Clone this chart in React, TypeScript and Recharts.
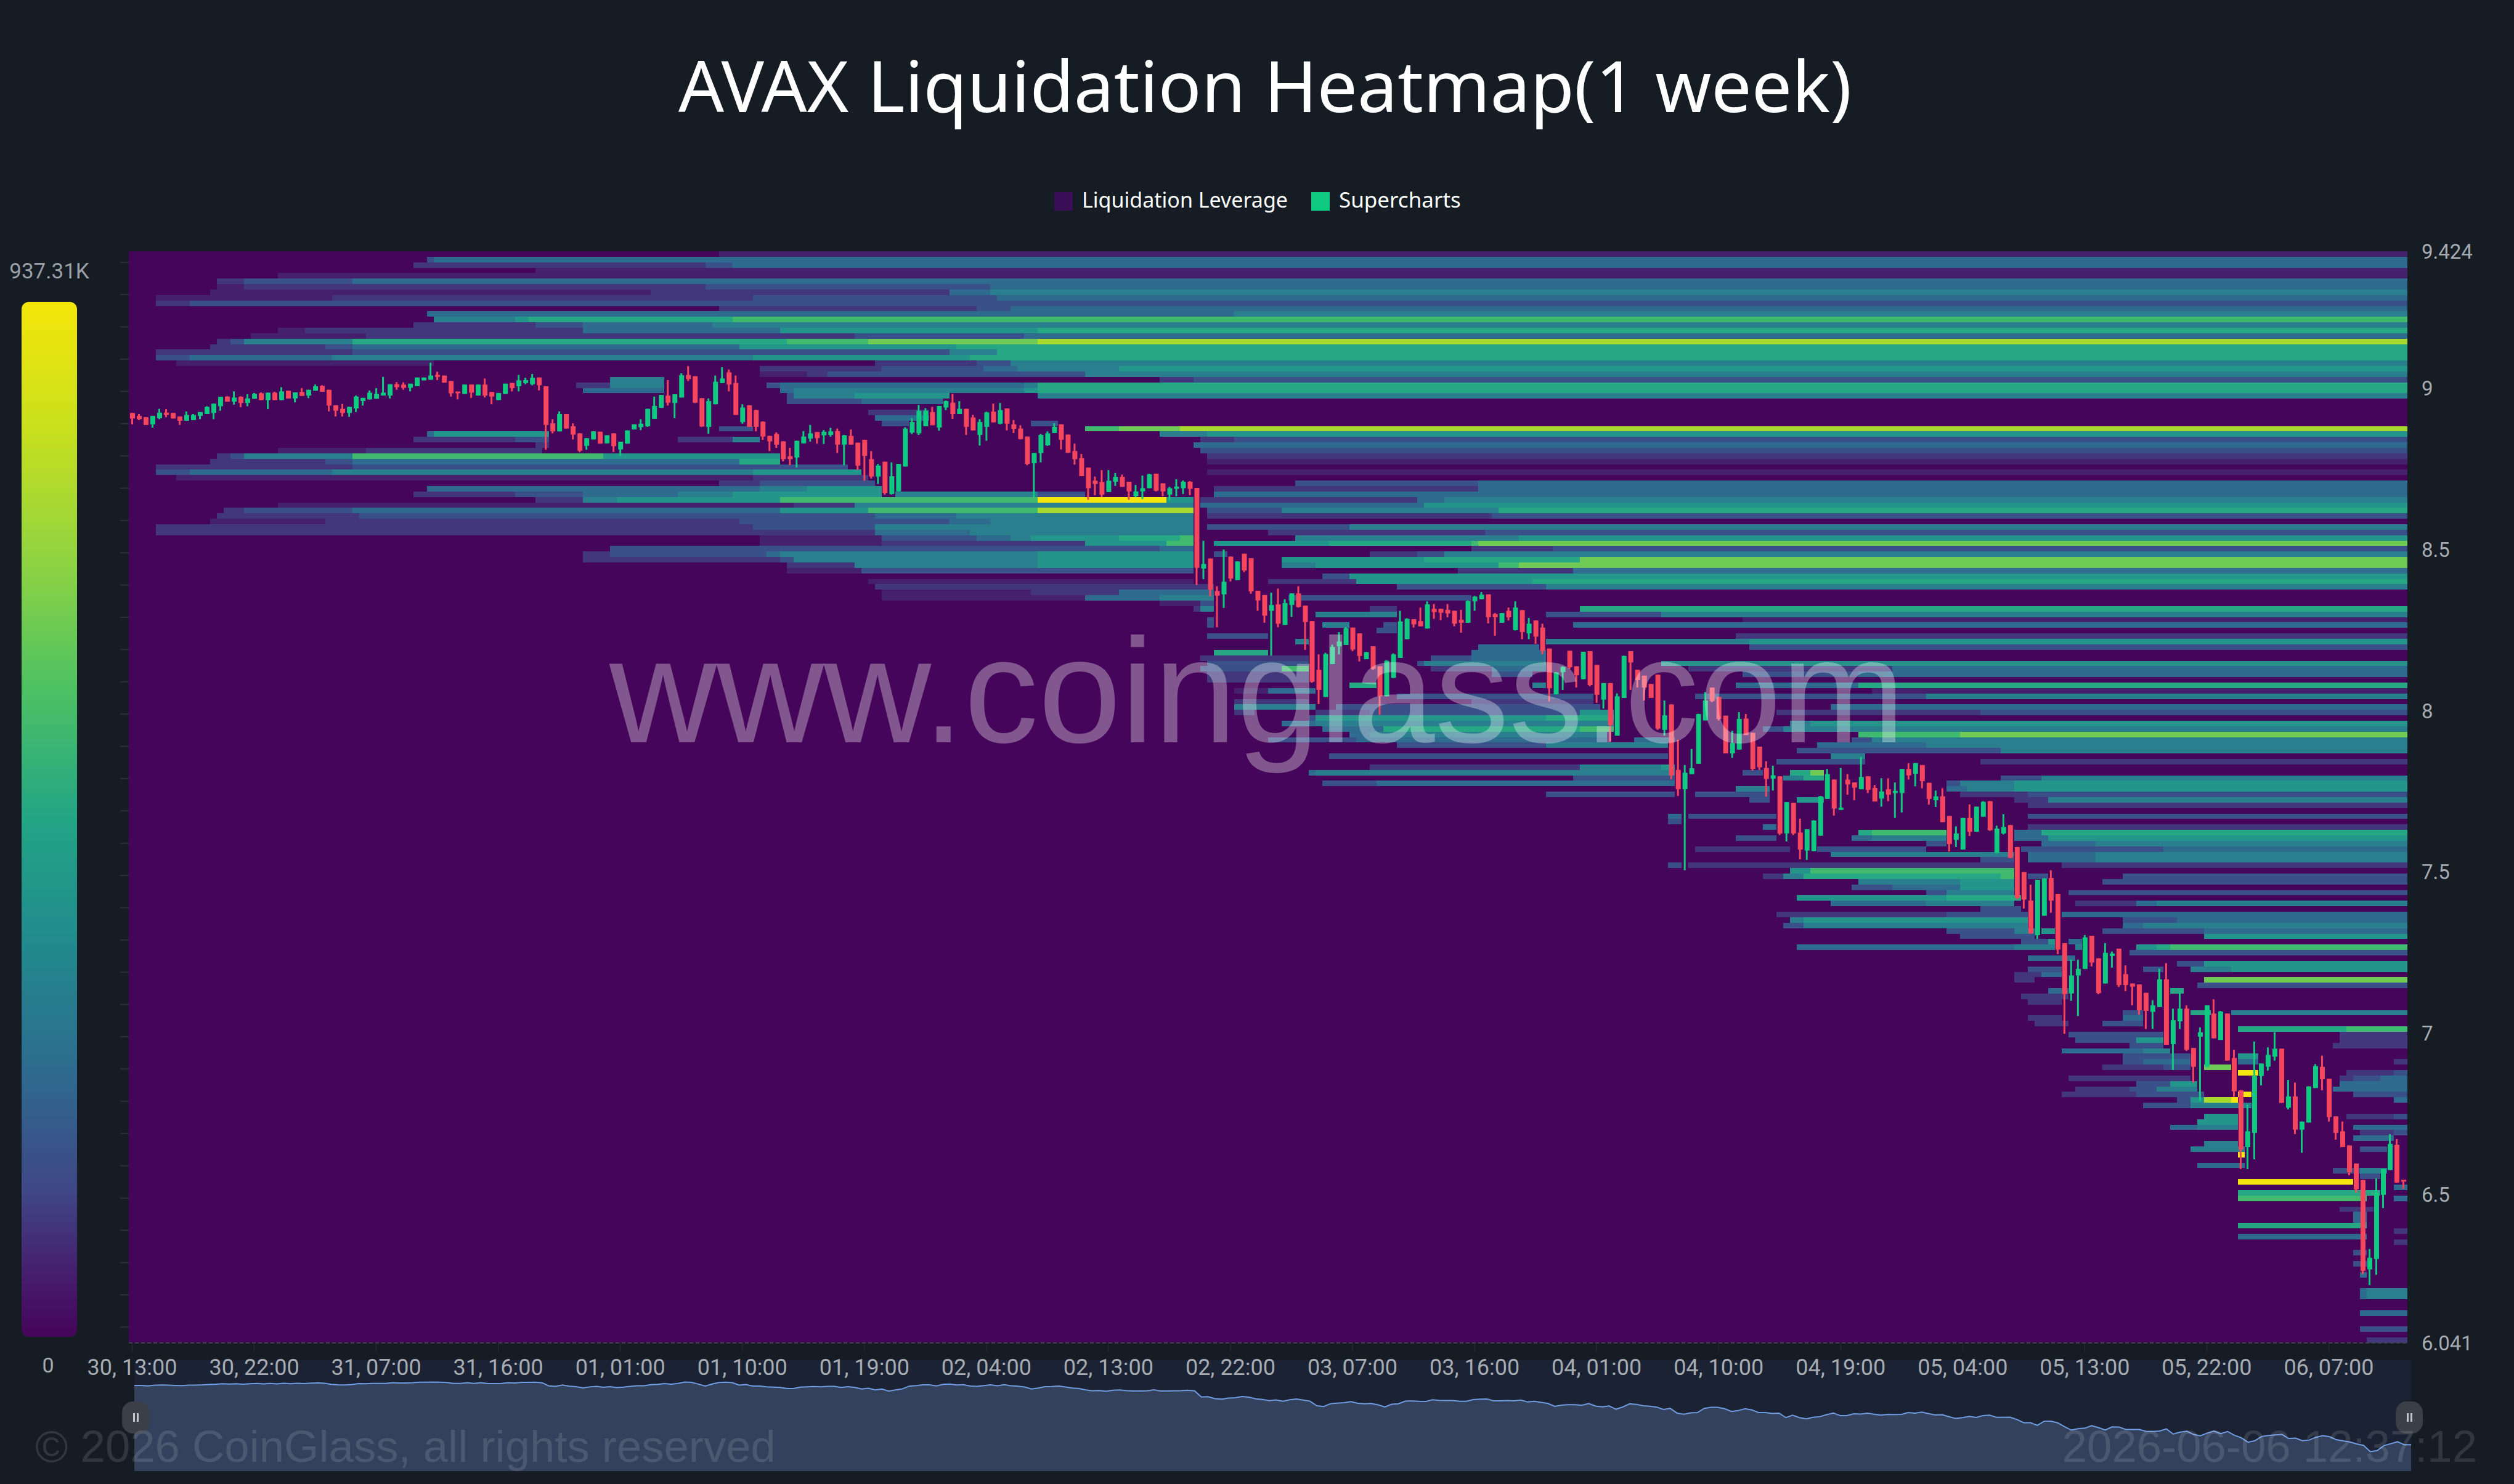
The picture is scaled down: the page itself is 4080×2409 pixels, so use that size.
import { Area, AreaChart, Bar, Cell, ComposedChart, ReferenceArea, XAxis, YAxis } from 'recharts'

// 30 minute candles, 30th 13:00 to 6th 13:00
const opens = [
  8.923,8.914,8.910,8.888,8.907,8.924,8.923,8.912,8.899,8.901,
  8.914,8.920,8.923,8.944,8.974,8.958,8.973,8.954,8.967,8.984,
  8.963,8.986,8.963,8.992,8.968,8.988,8.977,8.992,9.007,8.995,
  8.947,8.936,8.923,8.937,8.960,8.965,8.967,8.977,8.977,9.012,
  9.011,9.001,9.006,9.024,9.026,9.041,9.039,9.022,8.987,8.982,
  9.011,8.977,9.011,8.988,8.963,8.982,9.016,9.006,9.016,9.012,
  9.033,9.006,8.891,8.866,8.920,8.882,8.860,8.821,8.841,8.865,
  8.829,8.860,8.810,8.828,8.872,8.879,8.882,8.905,8.939,8.977,
  8.954,8.971,9.041,9.037,8.969,8.880,8.950,9.016,9.049,9.016,
  8.895,8.947,8.932,8.896,8.852,8.858,8.835,8.789,8.785,8.829,
  8.844,8.864,8.854,8.855,8.867,8.825,8.852,8.831,8.840,8.780,
  8.726,8.772,8.672,8.680,8.757,8.862,8.860,8.882,8.926,8.878,
  8.940,8.955,8.920,8.936,8.909,8.855,8.880,8.927,8.890,8.937,
  8.888,8.875,8.850,8.767,8.799,8.823,8.861,8.888,8.856,8.805,
  8.783,8.754,8.713,8.709,8.678,8.710,8.725,8.710,8.665,8.680,
  8.690,8.735,8.705,8.670,8.688,8.690,8.710,8.691,8.441,8.472,
  8.371,8.361,8.478,8.405,8.487,8.473,8.372,8.359,8.310,8.330,
  8.266,8.328,8.364,8.326,8.278,8.127,8.043,8.145,8.200,8.204,
  8.258,8.240,8.160,8.200,8.138,8.045,8.102,8.164,8.222,8.284,
  8.278,8.255,8.316,8.316,8.313,8.310,8.282,8.273,8.339,8.346,
  8.361,8.300,8.273,8.310,8.250,8.312,8.240,8.280,8.258,8.193,
  8.051,8.120,8.186,8.138,8.098,8.185,8.142,8.035,8.086,7.923,
  8.040,8.185,8.127,8.109,8.083,8.112,7.941,8.020,7.817,7.757,
  7.804,7.836,7.970,8.072,8.043,7.985,7.868,7.880,7.976,7.932,
  7.889,7.823,7.790,7.797,7.620,7.715,7.623,7.567,7.565,7.613,
  7.727,7.787,7.693,7.787,7.778,7.757,7.797,7.761,7.728,7.757,
  7.745,7.745,7.820,7.805,7.832,7.777,7.723,7.735,7.674,7.600,
  7.570,7.668,7.625,7.672,7.720,7.560,7.620,7.646,7.578,7.500,
  7.412,7.305,7.365,7.482,7.433,7.280,7.124,7.180,7.200,7.303,
  7.233,7.155,7.240,7.263,7.184,7.155,7.152,7.126,7.067,7.082,
  7.168,6.967,7.038,7.077,6.955,6.990,6.897,7.062,6.980,7.062,
  6.924,6.824,6.648,6.692,6.868,6.897,6.928,6.953,6.770,6.805,
  6.702,6.724,6.831,6.897,6.860,6.743,6.697,6.653,6.597,6.546,
  6.269,6.301,6.500,6.577,6.655,6.546,
]
const highs = [
  8.923,8.920,8.910,8.914,8.936,8.935,8.923,8.912,8.928,8.920,
  8.926,8.944,8.952,8.973,8.975,8.990,8.975,8.981,8.985,8.987,
  8.986,8.989,9.003,8.992,8.987,9.000,8.995,9.011,9.009,8.995,
  8.947,8.951,8.942,8.977,8.970,8.993,9.000,9.035,9.012,9.019,
  9.018,9.014,9.033,9.033,9.079,9.051,9.039,9.022,8.987,9.011,
  9.011,9.011,9.030,8.988,8.985,9.014,9.016,9.041,9.032,9.044,
  9.033,9.006,8.904,8.928,8.920,8.891,8.860,8.845,8.866,8.865,
  8.854,8.860,8.834,8.869,8.888,8.904,8.936,8.974,8.979,9.025,
  8.981,9.046,9.068,9.037,8.969,8.968,9.039,9.065,9.058,9.039,
  8.950,8.947,8.933,8.897,8.852,8.863,8.835,8.815,8.837,8.867,
  8.886,8.864,8.870,8.877,8.875,8.855,8.872,8.831,8.840,8.805,
  8.765,8.772,8.770,8.765,8.879,8.907,8.948,8.938,8.942,8.945,
  8.962,8.982,8.960,8.936,8.917,8.904,8.927,8.952,8.954,8.937,
  8.901,8.885,8.850,8.799,8.858,8.866,8.891,8.888,8.856,8.828,
  8.796,8.754,8.726,8.746,8.746,8.737,8.732,8.710,8.700,8.729,
  8.735,8.735,8.705,8.694,8.718,8.714,8.712,8.691,8.527,8.472,
  8.386,8.500,8.478,8.463,8.487,8.473,8.372,8.359,8.366,8.379,
  8.346,8.364,8.386,8.326,8.278,8.175,8.180,8.205,8.244,8.259,
  8.258,8.240,8.182,8.200,8.138,8.157,8.178,8.310,8.287,8.284,
  8.320,8.339,8.331,8.316,8.331,8.310,8.313,8.342,8.356,8.368,
  8.361,8.303,8.303,8.320,8.339,8.312,8.288,8.280,8.270,8.193,
  8.120,8.138,8.186,8.138,8.183,8.185,8.142,8.086,8.086,8.054,
  8.171,8.185,8.127,8.109,8.083,8.112,8.032,8.020,7.910,7.832,
  7.882,7.991,8.058,8.072,8.043,7.985,7.938,7.996,7.990,7.932,
  7.889,7.844,7.830,7.797,7.717,7.715,7.666,7.633,7.661,7.736,
  7.820,7.787,7.823,7.804,7.778,7.857,7.797,7.770,7.791,7.791,
  7.778,7.820,7.838,7.838,7.832,7.777,7.753,7.760,7.674,7.642,
  7.668,7.710,7.703,7.720,7.720,7.644,7.680,7.646,7.578,7.500,
  7.461,7.476,7.482,7.506,7.433,7.280,7.229,7.229,7.305,7.303,
  7.233,7.280,7.254,7.263,7.211,7.155,7.152,7.126,7.103,7.201,
  7.218,7.077,7.126,7.087,6.955,7.019,7.087,7.106,7.070,7.062,
  6.950,6.824,6.780,6.975,6.907,6.957,7.004,6.953,6.856,6.848,
  6.727,6.836,6.905,6.931,6.860,6.743,6.727,6.653,6.597,6.546,
  6.332,6.551,6.580,6.688,6.673,6.546,
]
const lows = [
  8.888,8.901,8.886,8.877,8.904,8.910,8.906,8.886,8.899,8.901,
  8.904,8.920,8.904,8.930,8.958,8.949,8.941,8.944,8.967,8.963,
  8.935,8.963,8.963,8.968,8.956,8.976,8.969,8.992,8.989,8.928,
  8.912,8.912,8.911,8.926,8.946,8.965,8.967,8.977,8.968,8.995,
  8.995,8.990,9.006,9.024,9.026,9.025,9.017,8.974,8.965,8.982,
  8.970,8.977,8.971,8.950,8.963,8.982,8.990,8.990,9.012,9.009,
  8.993,8.809,8.860,8.866,8.875,8.841,8.802,8.809,8.841,8.828,
  8.829,8.802,8.790,8.828,8.872,8.870,8.880,8.905,8.939,8.946,
  8.907,8.971,9.022,8.954,8.880,8.859,8.950,9.016,8.990,8.917,
  8.890,8.880,8.866,8.840,8.805,8.815,8.773,8.761,8.754,8.829,
  8.834,8.828,8.827,8.850,8.799,8.761,8.825,8.746,8.713,8.720,
  8.703,8.670,8.670,8.680,8.757,8.858,8.855,8.882,8.885,8.868,
  8.932,8.905,8.920,8.855,8.869,8.822,8.837,8.894,8.888,8.869,
  8.861,8.841,8.761,8.662,8.770,8.821,8.861,8.810,8.799,8.763,
  8.727,8.654,8.668,8.662,8.678,8.697,8.694,8.654,8.662,8.656,
  8.690,8.680,8.665,8.652,8.665,8.672,8.668,8.390,8.408,8.354,
  8.259,8.319,8.401,8.405,8.430,8.363,8.310,8.273,8.171,8.259,
  8.266,8.291,8.320,8.189,8.087,8.021,8.043,8.145,8.175,8.204,
  8.185,8.153,8.160,8.127,7.988,8.045,8.102,8.164,8.222,8.258,
  8.262,8.255,8.285,8.281,8.290,8.262,8.242,8.273,8.310,8.346,
  8.271,8.233,8.273,8.280,8.249,8.222,8.222,8.208,8.175,8.029,
  8.051,8.065,8.130,8.072,8.098,8.076,8.025,8.007,7.905,7.923,
  8.040,8.065,8.072,8.032,8.040,7.941,7.923,7.788,7.736,7.506,
  7.804,7.836,7.970,8.027,7.970,7.868,7.854,7.880,7.925,7.815,
  7.817,7.734,7.753,7.615,7.595,7.615,7.540,7.538,7.565,7.613,
  7.727,7.675,7.693,7.740,7.723,7.757,7.745,7.719,7.703,7.720,
  7.668,7.685,7.787,7.766,7.760,7.709,7.702,7.655,7.564,7.578,
  7.570,7.612,7.625,7.672,7.628,7.558,7.617,7.544,7.416,7.387,
  7.310,7.293,7.365,7.374,7.246,6.999,7.101,7.054,7.200,7.208,
  7.122,7.155,7.204,7.144,7.131,7.087,7.058,7.014,7.014,7.082,
  6.965,6.887,7.014,6.946,6.848,6.790,6.895,6.985,6.980,6.916,
  6.804,6.580,6.580,6.610,6.839,6.885,6.916,6.785,6.765,6.688,
  6.630,6.724,6.831,6.824,6.727,6.671,6.648,6.561,6.507,6.254,
  6.220,6.252,6.459,6.577,6.538,6.519,
]
const closes = [
  8.906,8.904,8.886,8.914,8.924,8.917,8.906,8.899,8.917,8.917,
  8.926,8.942,8.952,8.973,8.958,8.971,8.954,8.968,8.982,8.963,
  8.986,8.963,8.990,8.968,8.987,8.976,8.995,9.006,8.989,8.946,
  8.930,8.923,8.942,8.974,8.970,8.986,8.982,8.986,9.012,9.003,
  9.001,9.014,9.033,9.033,9.039,9.035,9.017,8.984,8.984,9.011,
  8.986,9.011,8.977,8.974,8.985,9.014,9.000,9.024,9.025,9.032,
  9.009,8.886,8.866,8.920,8.875,8.856,8.806,8.845,8.866,8.828,
  8.854,8.820,8.834,8.869,8.888,8.890,8.936,8.945,8.979,8.955,
  8.981,9.040,9.028,8.955,8.881,8.960,9.020,9.030,9.011,8.917,
  8.940,8.880,8.880,8.850,8.835,8.825,8.780,8.780,8.837,8.850,
  8.860,8.845,8.865,8.866,8.825,8.854,8.825,8.760,8.790,8.726,
  8.760,8.675,8.727,8.765,8.875,8.895,8.930,8.930,8.885,8.945,
  8.960,8.920,8.936,8.880,8.869,8.895,8.925,8.894,8.932,8.890,
  8.874,8.842,8.765,8.799,8.855,8.860,8.880,8.840,8.800,8.780,
  8.727,8.690,8.703,8.670,8.713,8.725,8.694,8.680,8.680,8.690,
  8.733,8.682,8.680,8.690,8.695,8.710,8.688,8.443,8.455,8.375,
  8.357,8.400,8.410,8.463,8.435,8.370,8.342,8.295,8.328,8.270,
  8.334,8.364,8.322,8.275,8.090,8.065,8.176,8.198,8.215,8.256,
  8.190,8.170,8.182,8.130,8.045,8.155,8.175,8.277,8.285,8.268,
  8.262,8.330,8.306,8.304,8.302,8.270,8.273,8.340,8.354,8.360,
  8.290,8.290,8.303,8.290,8.320,8.244,8.270,8.230,8.186,8.070,
  8.119,8.136,8.135,8.110,8.183,8.080,8.050,8.086,7.956,8.045,
  8.170,8.150,8.095,8.072,8.040,7.945,7.986,7.800,7.757,7.808,
  7.822,7.990,8.032,8.030,7.975,7.868,7.900,7.975,7.925,7.820,
  7.825,7.789,7.800,7.620,7.717,7.620,7.570,7.633,7.660,7.735,
  7.804,7.697,7.700,7.772,7.762,7.795,7.755,7.719,7.750,7.740,
  7.752,7.820,7.800,7.838,7.782,7.727,7.735,7.655,7.587,7.620,
  7.668,7.625,7.703,7.718,7.630,7.635,7.640,7.544,7.420,7.415,
  7.310,7.476,7.480,7.412,7.260,7.122,7.180,7.200,7.298,7.220,
  7.125,7.250,7.248,7.150,7.150,7.145,7.072,7.070,7.087,7.168,
  6.965,7.041,7.077,6.950,6.897,7.004,7.087,6.985,7.068,6.916,
  6.821,6.640,6.697,6.868,6.907,6.934,6.953,6.785,6.805,6.702,
  6.727,6.836,6.899,6.858,6.741,6.692,6.648,6.570,6.517,6.264,
  6.305,6.507,6.580,6.658,6.538,6.541,
]

const priceTicks = [6.041, 6.5, 7, 7.5, 8, 8.5, 9, 9.424]
const minorPriceTicks = [
  9.39,9.29,9.19,9.09,8.99,8.89,8.79,8.69,8.59,8.49,8.39,8.29,8.19,8.09,7.99,7.89,7.79,
  7.69,7.59,7.49,7.39,7.29,7.19,7.09,6.99,6.89,6.79,6.69,6.59,6.49,6.39,6.29,6.19,6.09,
]
const timeLabels = [
  '30, 13:00','30, 22:00','31, 07:00','31, 16:00','01, 01:00','01, 10:00','01, 19:00','02, 04:00',
  '02, 13:00','02, 22:00','03, 07:00','03, 16:00','04, 01:00','04, 10:00','04, 19:00','05, 04:00',
  '05, 13:00','05, 22:00','06, 07:00',
]
const timeSlots = [0,18,36,54,72,90,108,126,144,162,180,198,216,234,252,270,288,306,324]

// index = liquidation strength, 0 means nothing in that bucket
const heatColors = ['#45055a','#45206c','#42367c','#3a5088','#2f6b8e','#2a7f8e','#23958a','#25a883','#3fba6f','#6fcb55','#a8d92f','#f5e60e']

// one entry per price bucket from the top, each a flat list of: candle slot, strength, slot, strength...
const heatRows: number[][] = [
  [87,1],
  [44,3,45,4],
  [42,2,59,2,85,3,89,4],
  [60,1],
  [22,1],
  [13,2,17,3,33,4],
  [13,1,17,2,85,3,127,4],
  [12,1,77,2,121,4,127,5],
  [4,1,30,2,92,3,128,4],
  [4,2,9,3],
  [87,2,125,3,130,4],
  [44,4,163,5],
  [45,5,57,6,59,7,89,8],
  [42,2,60,3,67,4,86,5],
  [22,1,26,2,67,4,96,6,134,7],
  [18,1,35,2,107,3,132,4],
  [13,2,15,3,17,5,33,7,97,8,109,9,134,10],
  [12,2,29,3,33,4,90,6,122,7],
  [4,2,33,3,121,5,128,7],
  [4,3,9,4,30,5,92,6,124,7],
  [7,1,45,0,110,2,125,3,130,5],
  [93,2,111,3,126,4,131,5,146,6],
  [93,1,100,2,103,3,141,5],
  [71,5,79,0,152,2,157,3],
  [66,2,71,5,79,0,94,3,96,4,132,5,134,7],
  [67,4,79,0,96,4,98,5,132,6,134,7],
  [97,3,98,5,107,6,121,0,134,5],
  [97,3,108,4,120,0],
  [],
  [109,2,118,0],
  [110,4,118,0],
  [111,3,115,0,133,3,137,0],
  [87,3,92,0,141,8,146,9,155,10],
  [44,4,45,6,62,0,152,5,159,6],
  [42,2,57,3,62,0,81,2,89,5,93,0,158,2,163,3],
  [60,2,62,0,157,4],
  [22,1,35,2,61,0,158,3],
  [13,2,15,3,17,5,33,8,70,6,96,0,159,2],
  [12,2,29,3,33,4,90,7,96,0,159,1],
  [4,2,33,3,106,0],
  [4,3,9,4,30,5,92,6,108,0,159,1],
  [7,1,92,2,109,0],
  [87,2,93,3,110,0,172,3,199,4],
  [44,4,93,5,100,6,111,0,160,2,199,4],
  [42,2,57,3,67,4,81,5,89,6,111,0,113,5,134,3,141,0,160,4],
  [60,2,67,5,72,6,96,8,134,11,153,6,157,0,158,2,190,4,194,5],
  [22,1,98,2,107,5,157,0,158,4,191,6],
  [14,2,17,3,33,4,96,6,109,8,134,10,157,0,159,3,170,5,202,7],
  [13,2,34,3,110,4,122,5,157,0,159,2,201,3],
  [12,1,29,2,90,3,121,4,127,5,157,0],
  [4,2,92,3,110,5,157,0,159,3,180,5],
  [4,2,110,4,124,5,157,0,168,2,200,3],
  [93,1,111,3,125,4,130,5,133,6,146,7,155,8,157,0,172,5,205,6],
  [93,1,111,2,141,6,153,8,157,0,160,6,177,7,198,8,199,9],
  [71,3,152,4,157,0,198,2,210,3],
  [67,2,71,3,94,4,96,5,134,6,157,0,160,3,162,0,183,2,190,3,194,5],
  [67,2,96,3,98,5,134,6,157,0,170,6,191,7,214,9],
  [97,2,107,5,134,6,157,0,170,5,175,6,202,8,205,9],
  [97,1,108,3,157,0,196,2,213,4],
  [176,3,180,6],
  [109,1,157,0,168,2,181,6,207,7],
  [110,2,160,0,187,3,209,5],
  [111,1,133,2,146,4,160,0],
  [111,1,141,4,152,5,160,0,171,3,198,0],
  [152,1,158,3,160,0],
  [157,2,158,5,160,0,183,2,187,0,214,7],
  [175,5,187,0,209,3,226,5],
  [159,3,160,0,238,1],
  [159,3,160,0,176,5,180,0,185,3,187,0,213,4],
  [184,3,187,0],
  [159,3,168,0,237,2],
  [172,5,174,0,209,5,239,6],
  [199,4,208,0,239,3],
  [160,7,168,0,198,4,209,0],
  [158,2,174,0,192,3,198,4,209,0],
  [159,3,174,0,190,3,191,5,209,0,226,6],
  [158,3,170,8,174,0,192,2,201,4,209,0,230,2,260,4],
  [159,2,174,0,201,3,207,0,238,3,255,4],
  [159,2,174,0],
  [180,7,184,0,207,5,209,0,237,4,255,7],
  [163,1,168,4,175,0,257,1],
  [187,3,216,0,231,3,265,5],
  [163,2,174,0,198,2,216,0],
  [163,5,175,0,178,3,217,0,251,4],
  [163,2,166,0,175,2,183,3,214,6,219,0,243,2,273,3],
  [174,3,175,6,209,7,219,0],
  [170,4,175,5,219,0,245,5,248,6],
  [176,4,185,7,214,8,219,0,241,3,244,5],
  [180,4,183,5,218,0,255,8,270,9],
  [168,3,181,4,218,0,222,4,228,0,254,3,257,5],
  [187,3,209,5,227,0,249,4,265,5],
  [246,3,276,5],
  [177,3,227,0,251,5,256,0],
  [243,3,256,0,273,2],
  [183,2,214,5,226,6,228,0],
  [174,4,175,5,228,0,238,3,241,0,245,7,248,9,250,0],
  [213,3,228,0,244,5,247,7,250,0,276,3,282,5],
  [176,3,184,4,228,0,268,3,270,5,278,6],
  [237,5,242,0,268,4,271,5,278,6],
  [209,3,228,0,231,3,242,0,270,2,280,3],
  [239,3,242,0,246,6,250,0,278,2,283,5],
  [280,2],
  [],
  [227,4,229,0,230,3,243,0,280,3],
  [227,3,229,0],
  [241,4,243,0,280,2],
  [255,7,257,8,268,0,278,4,282,7],
  [237,3,243,0,254,4,257,5,268,0,278,4,283,6],
  [265,3,268,0,282,4,290,5],
  [231,2,245,0,249,3,265,0,279,3,300,4],
  [251,5,278,0,280,4,290,5],
  [273,3,278,0,280,4,290,5],
  [227,3,229,0,230,2,278,0,285,2],
  [245,6,248,8,278,0],
  [241,2,244,5,247,7,276,8,278,0,280,3,283,0,294,3],
  [255,5,270,6,278,0,291,3],
  [254,3,260,4,270,6,278,0],
  [265,3,268,5,278,0,286,3],
  [246,6,268,7,279,0],
  [251,4,265,5,278,0,287,2,296,4,299,5],
  [273,3,279,0],
  [243,2,268,3,280,0,285,4],
  [245,5,247,6,280,0,294,3,302,4],
  [244,3,247,5,280,0,294,4,297,5],
  [268,3,278,5,281,0,282,6,284,0,291,3,306,4],
  [270,3,281,0,306,6],
  [279,3,283,6,284,0,286,4,288,0],
  [246,4,278,5,284,0,287,5,288,0,296,6,299,7,301,8],
  [295,3],
  [280,4,287,0],
  [302,3,306,6],
  [280,3,285,0,297,3,300,0,304,5,310,6],
  [278,2,282,4,285,0],
  [278,2,281,0,306,9],
  [305,3],
  [283,4,286,0,301,7,303,0],
  [279,2,286,0],
  [280,2,285,0],
  [],
  [294,3,297,0,304,7,307,0,310,5],
  [280,2,285,0,294,4,297,0],
  [281,2,286,0,291,3,297,0],
  [311,7,327,8],
  [286,3,300,0,326,2],
  [287,3,296,6,300,0,326,2],
  [295,3,300,0,325,2],
  [285,4,297,5,301,0],
  [294,3,304,0,311,6,314,0],
  [294,3,297,4,304,0,311,4,314,0,334,2],
  [291,2,300,3,304,0,306,9,310,0],
  [311,11,314,0,327,2,334,3],
  [286,2,304,0,326,2,328,3,332,4],
  [296,3,301,6,305,0,326,4],
  [287,2,295,3,299,5,305,0,325,4],
  [285,2,296,3,306,0,311,11,313,0,328,3],
  [302,3,304,6,306,10,310,11,311,0,334,4],
  [297,3,304,5,313,0],
  [],
  [306,6,311,0,327,2,334,3],
  [305,6,311,0],
  [301,4,305,5,311,0,328,4],
  [329,2,334,3],
  [328,4,334,0],
  [306,5,311,0],
  [304,5,312,0,329,3,333,0],
  [311,11,312,0],
  [],
  [305,4,312,0],
  [325,3,329,5,333,0],
  [329,3,332,0],
  [311,11,328,0],
  [334,4],
  [311,7,332,0],
  [311,8,330,0,334,4],
  [],
  [326,2,331,0],
  [328,4,330,0],
  [328,4,330,0],
  [311,7,330,0],
  [334,2],
  [311,4,330,0],
  [334,2],
  [],
  [328,3,330,0],
  [],
  [328,3,330,0],
  [],
  [329,4,330,0],
  [],
  [],
  [329,4,330,5],
  [329,4,330,5],
  [],
  [],
  [329,4],
  [],
  [],
  [329,3],
  [],
  [330,2],
]

const UP = '#0ecb81'
const DOWN = '#f6465d'
const SLOTS = opens.length
const BUCKETS = 200

const candles = opens.map((open, i) => ({
  slot: i,
  wick: [lows[i], highs[i]],
  body: [Math.min(open, closes[i]), Math.max(open, closes[i])],
  close: closes[i],
  up: closes[i] >= open,
}))

// turn the step lists into spans for the reference areas
const heatSpans = heatRows.flatMap((steps, row) => {
  const spans: { row: number; from: number; to: number; level: number }[] = []
  for (let s = 0; s < steps.length; s += 2) {
    if (steps[s + 1] === 0) continue
    spans.push({ row, from: steps[s], to: s + 2 < steps.length ? steps[s + 2] : SLOTS, level: steps[s + 1] })
  }
  return spans
})

const gradientStops = [
  [0, '#f5e60a'], [0.12, '#c9e01c'], [0.25, '#8fd341'], [0.37, '#4fc262'], [0.5, '#22a585'],
  [0.62, '#218a8d'], [0.74, '#2d6c8e'], [0.86, '#3f4686'], [0.95, '#46186c'], [1, '#45055a'],
] as const

const sans = '"Noto Sans", sans-serif'
const arial = '"Liberation Sans", Arial, sans-serif'
const axisFont = 'Roboto, sans-serif'

function Overlay() {
  return (
    <svg width={4080} height={2409} style={{ position: 'absolute', left: 0, top: 0, pointerEvents: 'none' }}>
      <defs>
        <linearGradient id="scale" x1="0" y1="0" x2="0" y2="1">
          {gradientStops.map(([at, color]) => <stop key={at} offset={at} stopColor={color} />)}
        </linearGradient>
      </defs>
      <text x={2053} y={182} textAnchor="middle" fontFamily={sans} fontSize={116} fill="#fff">AVAX Liquidation Heatmap(1 week)</text>

      <rect x={1711} y={312} width={30} height={30} fill="#3b0f57" />
      <text x={1756} y={337} fontFamily={sans} fontSize={34} fill="#fff">Liquidation Leverage</text>
      <rect x={2128} y={312} width={30} height={30} fill={UP} />
      <text x={2173} y={337} fontFamily={sans} fontSize={35} fill="#fff">Supercharts</text>

      <text x={80} y={452} textAnchor="middle" fontFamily={axisFont} fontSize={35} fill="#9a9fa6">937.31K</text>
      <rect x={35} y={490} width={90} height={1680} rx={12} fill="url(#scale)" />
      <text x={78} y={2228} textAnchor="middle" fontFamily={axisFont} fontSize={34} fill="#a6abb1">0</text>

      <text x={989} y={1205} fontFamily={arial} fontSize={241} fill="#fff" fillOpacity={0.33}>www.coinglass.com</text>

      <rect x={198} y={2275} width={45} height={52} rx={18} fill="#3b4048" />
      <rect x={216} y={2294} width={3} height={14} fill="#c4c7cc" />
      <rect x={222} y={2294} width={3} height={14} fill="#c4c7cc" />
      <rect x={3888} y={2275} width={44} height={52} rx={18} fill="#3b4048" />
      <rect x={3906} y={2294} width={3} height={14} fill="#c4c7cc" />
      <rect x={3912} y={2294} width={3} height={14} fill="#c4c7cc" />

      <text x={57} y={2373} fontFamily={arial} fontSize={72.5} fill="#fff" fillOpacity={0.12}>© 2026 CoinGlass, all rights reserved</text>
      <text x={4020} y={2373} textAnchor="end" fontFamily={arial} fontSize={72.5} fill="#fff" fillOpacity={0.12}>2026-06-06 12:37:12</text>
    </svg>
  )
}

export default function App() {
  return (
    <div style={{ position: 'absolute', left: 0, top: 0, width: 4080, height: 2409, background: '#151c24', overflow: 'hidden' }}>
      {/* overview strip under the chart */}
      <div style={{ position: 'absolute', left: 218, top: 2208, width: 3695, height: 180, background: '#1a2233' }}>
        <AreaChart width={3695} height={180} data={candles} margin={{ top: 0, right: 0, bottom: 0, left: 0 }}>
          <XAxis dataKey="slot" hide />
          <YAxis hide domain={[5.49, 9.91]} />
          <Area type="linear" dataKey="close" stroke="#6f9ce0" strokeWidth={2} fill="#33415c" fillOpacity={1} dot={false} isAnimationActive={false} />
        </AreaChart>
      </div>

      {/* heat layer: the number axis runs over the data indexes 0..335, so the right margin is one slot more */}
      <div style={{ position: 'absolute', left: 0, top: 0 }}>
        <ComposedChart width={4080} height={2409} data={candles} margin={{ top: 408, right: 184, bottom: 229, left: 209 }}>
          <XAxis xAxisId="heatX" type="number" hide domain={[0, SLOTS]} allowDataOverflow />
          <YAxis yAxisId="heatY" hide reversed domain={[0, BUCKETS]} allowDataOverflow />
          <ReferenceArea xAxisId="heatX" yAxisId="heatY" ifOverflow="visible" x1={0} x2={SLOTS} y1={0} y2={BUCKETS} fill={heatColors[0]} fillOpacity={1} strokeWidth={0} />
          {heatSpans.map((span, i) => (
            <ReferenceArea
              key={i}
              xAxisId="heatX"
              yAxisId="heatY"
              ifOverflow="visible"
              x1={span.from}
              x2={span.to}
              y1={span.row}
              y2={span.row + 1}
              fill={heatColors[span.level]}
              fillOpacity={1}
              strokeWidth={0}
              shapeRendering="crispEdges"
            />
          ))}
        </ComposedChart>
      </div>

      <div style={{ position: 'absolute', left: 0, top: 0 }}>
        <ComposedChart width={4080} height={2409} data={candles} barGap={0} margin={{ top: 408, right: 0, bottom: 129, left: 195 }}>
          <XAxis
            xAxisId="body"
            dataKey="slot"
            height={100}
            ticks={timeSlots}
            interval={0}
            tickFormatter={(slot: number) => timeLabels[timeSlots.indexOf(slot)]}
            tick={{ fontSize: 36, fill: '#a6abb1', fontFamily: axisFont }}
            tickSize={14}
            tickMargin={12}
            tickLine={{ stroke: '#2c3138' }}
            axisLine={{ stroke: '#3d4249', strokeDasharray: '6 4', strokeWidth: 2 }}
          />
          <XAxis xAxisId="wick" dataKey="slot" hide />
          <YAxis
            yAxisId="price"
            orientation="right"
            width={174}
            domain={[6.041, 9.424]}
            ticks={priceTicks}
            interval={0}
            allowDataOverflow
            tick={{ fontSize: 33, fill: '#a6abb1', fontFamily: axisFont }}
            tickSize={0}
            tickMargin={24}
            axisLine={false}
            tickLine={false}
          />
          <YAxis
            yAxisId="minor"
            orientation="left"
            width={14}
            domain={[6.041, 9.424]}
            allowDataOverflow
            ticks={minorPriceTicks}
            interval={0}
            tickFormatter={() => ''}
            tickSize={14}
            axisLine={false}
            tickLine={{ stroke: '#2c3138', strokeWidth: 2 }}
          />

          <Bar xAxisId="wick" yAxisId="price" dataKey="wick" barSize={3} isAnimationActive={false}>
            {candles.map((c) => <Cell key={c.slot} fill={c.up ? UP : DOWN} />)}
          </Bar>
          <Bar xAxisId="body" yAxisId="price" dataKey="body" barSize={8} minPointSize={3} isAnimationActive={false}>
            {candles.map((c) => <Cell key={c.slot} fill={c.up ? UP : DOWN} />)}
          </Bar>
        </ComposedChart>
      </div>

      <Overlay />
    </div>
  )
}
